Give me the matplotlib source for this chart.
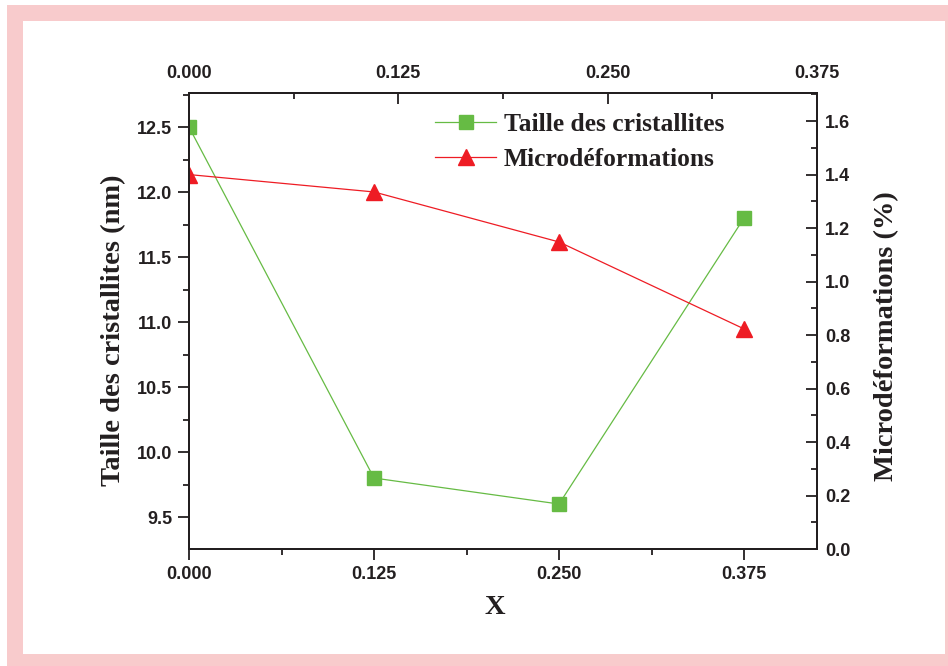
import matplotlib.pyplot as plt
from matplotlib.patches import Rectangle
from matplotlib.ticker import MultipleLocator

x = [0.0, 0.125, 0.250, 0.375]
taille = [12.5, 9.8, 9.6, 11.8]
micro = [1.40, 1.335, 1.148, 0.823]
xticks = [0.0, 0.125, 0.250, 0.375]
xticklabels = ["0.000", "0.125", "0.250", "0.375"]

green = "#66bb44"
red = "#ee1c24"
dark = "#231f20"
tickfont = {"family": "Liberation Sans", "weight": "bold", "size": 13}
labfont = {"family": "Liberation Serif", "weight": "bold", "size": 20.5}

fig = plt.figure(figsize=(9.48, 6.66), dpi=100)
W, H = 948, 666
# pink frame
fig.patches.append(Rectangle((7 / W, 0), 1, 1 - 5 / H, transform=fig.transFigure,
                             facecolor="#f8cbcc", edgecolor="none", zorder=-2))
fig.patches.append(Rectangle((23 / W, 12 / H), (945 - 23) / W, (654 - 21) / H,
                             transform=fig.transFigure, facecolor="white",
                             edgecolor="none", zorder=-1))

ax = fig.add_axes([189 / W, 1 - 549 / H, (817 - 189) / W, (549 - 93) / H])
ax.patch.set_alpha(0)
ax2 = ax.twinx()
ax3 = ax.twiny()

l1, = ax.plot(x, taille, color=green, lw=0.9, marker="s", ms=9.5,
              mec=green, mfc=green, label="Taille des cristallites")
l2, = ax2.plot(x, micro, color=red, lw=0.9, marker="^", ms=12,
               mec=red, mfc=red, label="Microdéformations")

ax.set_xlim(0, 0.4243)
ax.set_ylim(9.254, 12.762)
ax2.set_ylim(0, 1.705)
ax3.set_xlim(0, 0.375)

ax.set_xticks(xticks)
ax.set_xticklabels(xticklabels)
ax.xaxis.set_minor_locator(MultipleLocator(0.0625))
ax.yaxis.set_major_locator(MultipleLocator(0.5))
ax.yaxis.set_minor_locator(MultipleLocator(0.25))
ax2.yaxis.set_major_locator(MultipleLocator(0.2))
ax2.yaxis.set_minor_locator(MultipleLocator(0.1))
ax3.set_xticks(xticks)
ax3.set_xticklabels(xticklabels)
ax3.xaxis.set_minor_locator(MultipleLocator(0.0625))

for a in (ax, ax2, ax3):
    for s in a.spines.values():
        s.set_linewidth(1.3)
        s.set_color(dark)
    for lab in a.get_xticklabels() + a.get_yticklabels():
        lab.set_fontproperties(tickfont)
        lab.set_color(dark)

ax.tick_params(axis="both", which="major", direction="out", length=8, width=1.3,
               color=dark, pad=4)
ax.tick_params(axis="both", which="minor", direction="out", length=4, width=1.3,
               color=dark)
ax2.tick_params(axis="y", which="major", direction="in", length=8, width=1.3,
                color=dark, pad=6)
ax2.tick_params(axis="y", which="minor", direction="in", length=4, width=1.3,
                color=dark)
ax3.tick_params(axis="x", which="major", direction="in", length=8, width=1.3,
                color=dark, pad=8)
ax3.tick_params(axis="x", which="minor", direction="in", length=4, width=1.3,
                color=dark)

ax.set_xlabel("X", fontdict=labfont, color=dark, labelpad=9, x=0.487)
ax.set_ylabel("Taille des cristallites (nm)", fontdict=labfont, color=dark,
              labelpad=8, y=0.48)
ax2.set_ylabel("Microdéformations (%)", fontdict=labfont, color=dark,
               labelpad=17, y=0.467)

leg = ax.legend([l1, l2], [l1.get_label(), l2.get_label()], loc="upper left",
                bbox_to_anchor=(412 / W, 1 - 90 / H), bbox_transform=fig.transFigure,
                frameon=False, handlelength=2.4, handletextpad=0.3, labelspacing=0.45,
                prop={"family": "Liberation Serif", "weight": "bold", "size": 18.4})
for t in leg.get_texts():
    t.set_color(dark)

fig.savefig("out.png", dpi=100)
